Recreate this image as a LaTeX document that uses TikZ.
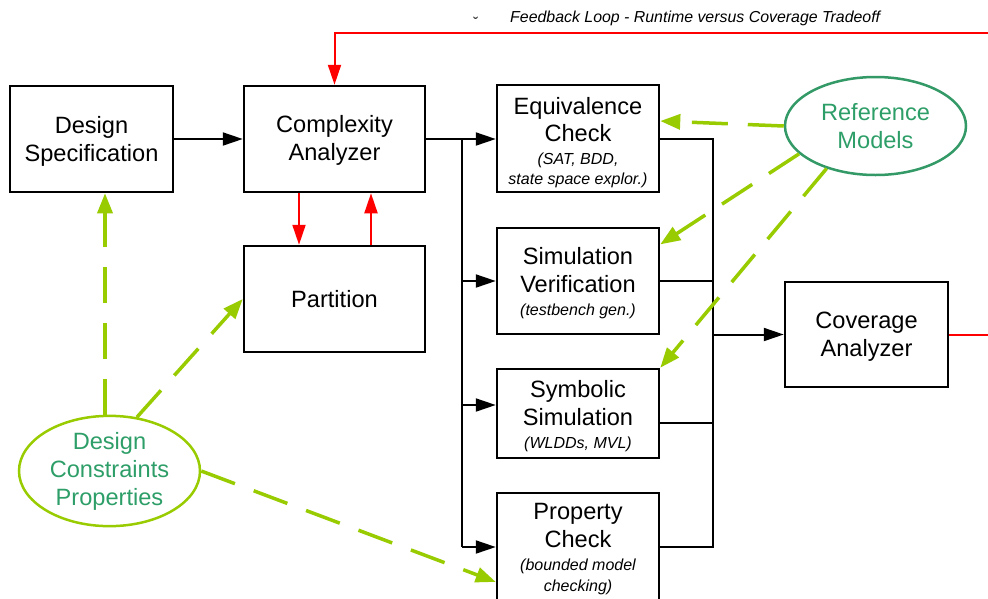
\documentclass[tikz,border=0pt]{standalone}
\usepackage{fontspec}
\setmainfont{Liberation Sans}
\usetikzlibrary{arrows.meta,shapes.geometric}
\definecolor{lime}{RGB}{153,204,0}
\definecolor{sea}{RGB}{51,153,102}
\definecolor{seatext}{RGB}{46,158,104}
\newcommand\bigf{\fontsize{23.6}{28}\selectfont}
\newcommand\smallf{\fontsize{16}{19}\selectfont\itshape}
\tikzset{
  box/.style={draw=black, line width=2.5pt, inner sep=0pt},
  txt/.style={align=center, inner sep=0pt, font=\bigf},
  conn/.style={draw=black, line width=2pt, -{Triangle[length=20pt,width=13pt]}},
  wire/.style={draw=black, line width=2pt},
  redarr/.style={draw=red, line width=2pt, -{Triangle[length=20pt,width=13pt]}},
  redwire/.style={draw=red, line width=2pt},
  garrow/.style={draw=lime, line width=3.5pt, dash pattern=on 36pt off 20pt, -{Triangle[length=20pt,width=15pt]}},
  oval/.style={ellipse, inner sep=0pt, line width=2.5pt, align=center, font=\bigf, text=seatext}
}
\begin{document}
\begin{tikzpicture}[x=1pt,y=-1pt]
\useasboundingbox (0,0) rectangle (988,598);
% boxes
\node[box, minimum width=163pt, minimum height=106pt] (spec) at (91.5,139) {};
\node[box, minimum width=181pt, minimum height=106pt] (cplx) at (334.5,139) {};
\node[box, minimum width=181pt, minimum height=106pt] (part) at (334.5,299) {};
\node[box, minimum width=162pt, minimum height=107pt] (equiv) at (578,138.5) {};
\node[box, minimum width=162pt, minimum height=106pt] (simv) at (578,281) {};
\node[box, minimum width=162pt, minimum height=89pt] (symb) at (578,413.5) {};
\node[box, minimum width=162pt, minimum height=108pt] (prop) at (578,547) {};
\node[box, minimum width=163pt, minimum height=105pt] (cov) at (866.5,334.5) {};
% box texts
\node[txt] (spect) at ([yshift=-2pt]spec.center) {Design\\Specification};
\node[txt] (cplxt) at ([yshift=-1.5pt]cplx.center) {Complexity\\Analyzer};
\node[txt] (partt) at (part.center) {Partition};
\node[txt] (equivt) at ([yshift=-4.5pt]equiv.center)
  {Equivalence\\[-1pt]Check\\[-5pt]\smallf (SAT, BDD,\\[-8pt]\smallf state space explor.)};
\node[txt] (simvt) at ([yshift=-2pt]simv.center)
  {Simulation\\Verification\\[-5pt]\smallf (testbench gen.)};
\node[txt] (symbt) at ([yshift=-3pt]symb.center)
  {Symbolic\\Simulation\\[-5pt]\smallf (WLDDs, MVL)};
\node[txt] (propt) at ([yshift=-2pt]prop.center)
  {Property\\Check\\[-5pt]\smallf (bounded model\\[-7pt]\smallf checking)};
\node[txt] (covt) at ([yshift=-2pt]cov.center) {Coverage\\Analyzer};
% ellipses
\node[oval, draw=sea, minimum width=181pt, minimum height=98pt] (refm) at (875.5,126) {Reference\\Models};
\node[oval, draw=lime, minimum width=181pt, minimum height=98pt] (dcp) at (109.5,471) {Design\\Constraints\\Properties};
% labels
\node[font=\fontsize{15.9}{19}\selectfont\itshape, anchor=west, inner sep=0pt] (fbl) at (510,18.5) {Feedback Loop - Runtime versus Coverage Tradeoff};
\node[font=\fontsize{14}{16}\selectfont, inner sep=0pt] (brv) at (476,22) {˘};
% coordinates
\coordinate (bl) at (462,0);
\coordinate (br) at (713,0);
\coordinate (ysym) at (0,405);
\coordinate (ysymo) at (0,423);
\coordinate (ycov) at (0,334.5);
\coordinate (r1) at (299,0);
\coordinate (r2) at (371,0);
\coordinate (ftop) at (0,33);
\coordinate (fright) at (992,0);
\coordinate (gx) at (105,0);
% black connectors
\draw[conn] (spec.east) -- (cplx.west);
\draw[wire] (cplx.east) -- (bl |- cplx.east) -- (bl |- prop.west);
\draw[conn] (bl |- cplx.east) -- (equiv.west |- cplx.east);
\draw[conn] (bl |- simv.west) -- (simv.west);
\draw[conn] (bl |- ysym) -- (symb.west |- ysym);
\draw[conn] (bl |- prop.west) -- (prop.west);
\draw[wire] (equiv.east |- cplx.east) -- (br |- cplx.east) -- (br |- prop.east) -- (prop.east);
\draw[wire] (simv.east) -- (br |- simv.east);
\draw[wire] (symb.east |- ysymo) -- (br |- ysymo);
\draw[conn] (br |- ycov) -- (cov.west);
% red feedback
\draw[redwire] (cov.east) -- (fright |- cov.east);
\draw[redarr] (fright |- ftop) -- (cplx.north |- ftop) -- (cplx.north);
\draw[redarr] (cplx.south -| r1) -- (part.north -| r1);
\draw[redarr] (part.north -| r2) -- (cplx.south -| r2);
% green dashed
\draw[garrow] (refm.west) -- (equiv.12);
\draw[garrow] (refm.200) -- (simv.24);
\draw[garrow] (refm.221) -- (symb.north east);
\draw[garrow] (dcp.north -| gx) -- (spec.south -| gx);
\draw[garrow] (dcp.63) -- (part.west);
\draw[garrow] (dcp.east) -- (prop.203);
\end{tikzpicture}
\end{document}
